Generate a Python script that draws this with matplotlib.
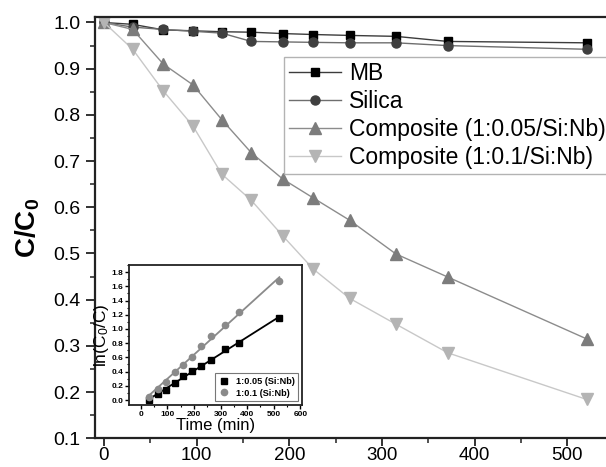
import numpy as np
import matplotlib
matplotlib.use("Agg")
import matplotlib.pyplot as plt
from matplotlib.ticker import MultipleLocator, FormatStrFormatter

plt.rcParams["font.family"] = ["Liberation Sans", "DejaVu Sans"]
plt.rcParams["mathtext.fontset"] = "custom"
plt.rcParams["mathtext.rm"] = "Liberation Sans"
plt.rcParams["mathtext.it"] = "Liberation Sans"
plt.rcParams["mathtext.bf"] = "Liberation Sans:bold"

# Irradiation time (min)
time_min = [0, 31, 64, 96, 127, 159, 193, 226, 265, 315, 371, 521]

# Normalised concentration C/C0
mb = [1.000, 0.996, 0.984, 0.982, 0.980, 0.979, 0.976, 0.974, 0.972, 0.970, 0.959, 0.956]
silica = [1.000, 0.990, 0.985, 0.981, 0.977, 0.959, 0.958, 0.957, 0.956, 0.956, 0.950, 0.942]
comp_005 = [1.000, 0.985, 0.910, 0.865, 0.790, 0.718, 0.661, 0.620, 0.572, 0.499, 0.449, 0.315]
comp_01 = [1.000, 0.942, 0.852, 0.776, 0.672, 0.615, 0.538, 0.466, 0.403, 0.347, 0.285, 0.184]

# Pseudo-first-order kinetics ln(C0/C)
kin_time = [30, 64, 96, 127, 159, 193, 226, 265, 315, 371, 521]
ln_005 = [0.00, 0.09, 0.145, 0.235, 0.333, 0.408, 0.478, 0.563, 0.713, 0.806, 1.158]
ln_01 = [0.047, 0.16, 0.258, 0.394, 0.488, 0.61, 0.76, 0.90, 1.05, 1.242, 1.674]

series_labels = ["MB", "Silica", "Composite (1:0.05/Si:Nb)", "Composite (1:0.1/Si:Nb)"]
inset_labels = ["1:0.05 (Si:Nb)", "1:0.1 (Si:Nb)"]

fig = plt.figure(figsize=(6.06, 4.67), dpi=100)
ax = fig.add_axes([0.1563, 0.0615, 0.8487, 0.9027])

ax.plot(time_min, mb, "-s", color="#3c3c3c", mfc="black", mec="black",
        ms=5.5, lw=1.0, label=series_labels[0])
ax.plot(time_min, silica, "-o", color="#6e6e6e", mfc="#3f3f3f", mec="#3f3f3f",
        ms=6.5, lw=1.0, label=series_labels[1])
ax.plot(time_min, comp_005, "-^", color="#8c8c8c", mfc="#7c7c7c", mec="#7c7c7c",
        ms=8, lw=1.0, label=series_labels[2])
ax.plot(time_min, comp_01, "-v", color="#c8c8c8", mfc="#b4b4b4", mec="#b4b4b4",
        ms=8, lw=1.0, label=series_labels[3])

ax.set_xlim(-10, 545)
ax.set_ylim(0.1, 1.0125)
ax.xaxis.set_major_locator(MultipleLocator(100))
ax.xaxis.set_minor_locator(MultipleLocator(50))
ax.yaxis.set_major_locator(MultipleLocator(0.1))
ax.yaxis.set_minor_locator(MultipleLocator(0.05))
ax.yaxis.set_major_formatter(FormatStrFormatter("%.1f"))
ax.tick_params(which="major", direction="out", length=6.5, width=1.3,
               labelsize=14, pad=4, color="#222222")
ax.tick_params(which="minor", direction="out", length=3.6, width=1.1, color="#222222")
ax.tick_params(axis="x", which="major", length=6, pad=0.5, labelsize=13.5)
for s in ax.spines.values():
    s.set_linewidth(1.6)
    s.set_color("#222222")

ax.set_ylabel(r"$\mathbf{C/C_0}$", fontsize=20)
ax.yaxis.set_label_coords(-0.103, 0.5)

leg = ax.legend(loc="upper left", bbox_to_anchor=(284 / 606, 1 - 57.3 / 467),
                bbox_transform=fig.transFigure, fontsize=16.5, frameon=True,
                fancybox=False, borderaxespad=0, borderpad=0.2,
                handlelength=2.3, handletextpad=0.35, labelspacing=0.22)
leg.get_frame().set_edgecolor("#a0a0a0")
leg.get_frame().set_linewidth(1.0)

# Inset: kinetic plot
ins = fig.add_axes([0.2134, 0.1328, 0.2845, 0.2998])
ins.set_zorder(5)
ins.set_facecolor("white")

kt = np.array(kin_time, dtype=float)
for yv, col, mk, lab in [(ln_005, "black", "s", inset_labels[0]),
                         (ln_01, "#8a8a8a", "o", inset_labels[1])]:
    coef = np.polyfit(kt, yv, 1)
    xl = np.array([kt.min(), kt.max()])
    ins.plot(xl, np.polyval(coef, xl), "-", color=col, lw=1.3)
    ins.plot(kt, yv, mk, color=col, ms=4.5, ls="none", label=lab)

ins.set_xlim(-43, 605)
ins.set_ylim(-0.07, 1.9)
ins.xaxis.set_major_locator(MultipleLocator(100))
ins.xaxis.set_minor_locator(MultipleLocator(50))
ins.yaxis.set_major_locator(MultipleLocator(0.2))
ins.yaxis.set_minor_locator(MultipleLocator(0.1))
ins.yaxis.set_major_formatter(FormatStrFormatter("%.1f"))
ins.tick_params(which="major", direction="out", length=3, width=1.0,
                labelsize=6, pad=1.5)
ins.tick_params(which="minor", direction="out", length=1.6, width=0.8)
for lbl in ins.get_xticklabels() + ins.get_yticklabels():
    lbl.set_fontweight("bold")
for s in ins.spines.values():
    s.set_linewidth(1.3)
    s.set_color("#222222")
ins.set_xlabel("Time (min)", fontsize=12, labelpad=0)
ins.set_ylabel(r"ln(C$_0$/C)", fontsize=12.5, labelpad=0)

il = ins.legend(loc="lower right", frameon=True, fancybox=False,
                handlelength=1.0, handletextpad=0.8, borderpad=0.4,
                labelspacing=0.3, borderaxespad=0.4,
                prop={"weight": "bold", "size": 6.6})
il.get_frame().set_edgecolor("#555555")
il.get_frame().set_linewidth(0.8)

fig.savefig("out.png", dpi=100)
